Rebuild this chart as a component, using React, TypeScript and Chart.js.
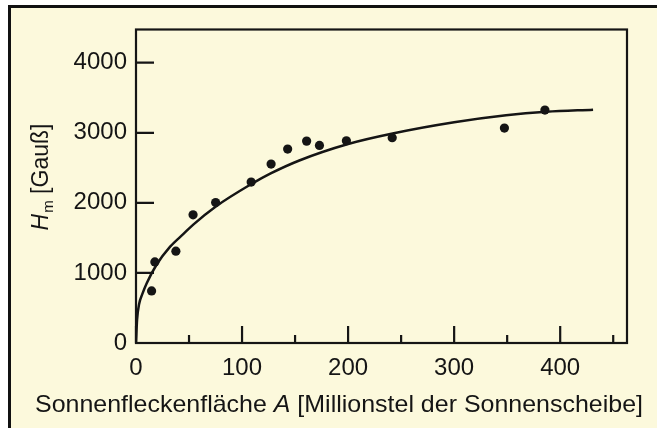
import React, { useEffect, useRef } from "react";
import { Chart, registerables } from "chart.js";

Chart.register(...registerables);

// Measured spot data: sunspot area A vs. maximum field strength H_m
const areaA = [14.7, 17.8, 37.6, 53.8, 75.1, 108.6, 127.4, 143, 160.9, 173, 198.4, 241.6, 347.4, 385.6];
const fieldH = [743, 1157, 1310, 1829, 2005, 2296, 2553, 2767, 2881, 2820, 2886, 2929, 3067, 3324];

// Fitted curve
const fitA = [0, 1, 3, 6, 10, 19.5, 32, 45, 54, 75, 108.6, 127, 154, 200, 242, 300, 349, 387, 431];
const fitH = [0, 330, 560, 700, 850, 1120, 1371, 1560, 1690, 1945, 2267, 2420, 2605, 2840, 2990, 3150, 3250, 3300, 3330];

const xTicks = [0, 100, 200, 300, 400];
const xMinorTicks = [50, 150, 250, 350, 450];
const yTicks = [0, 1000, 2000, 3000, 4000];

const xTitleParts = ["Sonnenfleckenfläche ", "A", " [Millionstel der Sonnenscheibe]"];
const yTitleSymbol = "H";
const yTitleSub = "m";
const yTitleUnit = " [Gauß]";

const FONT = "'Liberation Sans', Arial, Helvetica, sans-serif";
const INK = "#151515";

const framePlugin = {
  id: "frameAndTitles",
  afterDraw(chart: any) {
    const { ctx, chartArea: a, scales } = chart;
    const xs = scales.x;
    const ys = scales.y;
    ctx.save();
    ctx.strokeStyle = INK;
    ctx.lineWidth = 2.2;
    ctx.lineCap = "butt";
    ctx.strokeRect(a.left, a.top, a.right - a.left, a.bottom - a.top);
    ctx.beginPath();
    for (const v of xTicks) {
      const px = xs.getPixelForValue(v);
      ctx.moveTo(px, a.bottom);
      ctx.lineTo(px, a.bottom - 17);
    }
    for (const v of xMinorTicks) {
      const px = xs.getPixelForValue(v);
      ctx.moveTo(px, a.bottom);
      ctx.lineTo(px, a.bottom - 8);
    }
    for (const v of yTicks) {
      const py = ys.getPixelForValue(v);
      ctx.moveTo(a.left, py);
      ctx.lineTo(a.left + 18, py);
    }
    ctx.stroke();

    // x title
    ctx.fillStyle = INK;
    ctx.textBaseline = "alphabetic";
    ctx.textAlign = "left";
    const xFonts = [`24px ${FONT}`, `italic 24px ${FONT}`, `24px ${FONT}`];
    let total = 0;
    const widths: number[] = [];
    xTitleParts.forEach((p, i) => {
      ctx.font = xFonts[i];
      const w = ctx.measureText(p).width;
      widths.push(w);
      total += w;
    });
    const targetW = 608;
    ctx.save();
    ctx.translate(35, 411.5);
    ctx.scale(targetW / total, 1);
    let cx = 0;
    xTitleParts.forEach((p, i) => {
      ctx.font = xFonts[i];
      ctx.fillText(p, cx, 0);
      cx += widths[i];
    });
    ctx.restore();

    // y title
    ctx.save();
    ctx.translate(48, 177);
    ctx.rotate(-Math.PI / 2);
    ctx.font = `italic 23px ${FONT}`;
    const wH = ctx.measureText(yTitleSymbol).width;
    ctx.font = `15px ${FONT}`;
    const wSub = ctx.measureText(yTitleSub).width;
    ctx.font = `23px ${FONT}`;
    const wUnit = ctx.measureText(yTitleUnit).width;
    const tot = wH + wSub + 1 + wUnit;
    let sx = -tot / 2;
    ctx.font = `italic 23px ${FONT}`;
    ctx.fillText(yTitleSymbol, sx, 0);
    sx += wH + 1;
    ctx.font = `15px ${FONT}`;
    ctx.fillText(yTitleSub, sx, 5);
    sx += wSub;
    ctx.font = `23px ${FONT}`;
    ctx.fillText(yTitleUnit, sx, 0);
    ctx.restore();

    ctx.restore();
  },
};

export default function App() {
  const ref = useRef<HTMLCanvasElement | null>(null);

  useEffect(() => {
    if (!ref.current) return;
    const chart = new Chart(ref.current, {
      type: "scatter",
      data: {
        datasets: [
          {
            label: "Anpassung",
            data: fitA.map((x, i) => ({ x, y: fitH[i] })),
            showLine: true,
            pointRadius: 0,
            borderColor: INK,
            borderWidth: 2.5,
            cubicInterpolationMode: "monotone",
            fill: false,
          },
          {
            label: "Messungen",
            data: areaA.map((x, i) => ({ x, y: fieldH[i] })),
            pointRadius: 4.6,
            pointBackgroundColor: INK,
            pointBorderWidth: 0,
            backgroundColor: INK,
            borderColor: INK,
          },
        ],
      },
      options: {
        animation: false,
        responsive: false,
        devicePixelRatio: 1,
        layout: { padding: { left: 0, top: 29.5, right: 30, bottom: 0 } },
        plugins: {
          legend: { display: false },
          tooltip: { enabled: false },
          title: { display: false },
        },
        scales: {
          x: {
            type: "linear",
            min: 0,
            max: 463,
            grid: { display: false, drawTicks: false },
            border: { display: false },
            afterBuildTicks: (s: any) => {
              s.ticks = xTicks.map((v) => ({ value: v }));
            },
            afterFit: (s: any) => {
              s.height = 85;
            },
            ticks: {
              color: INK,
              font: { family: FONT, size: 24 },
              padding: 11,
              maxRotation: 0,
              autoSkip: false,
              callback: (v: any) => String(v),
            },
          },
          y: {
            type: "linear",
            min: 0,
            max: 4474,
            grid: { display: false, drawTicks: false },
            border: { display: false },
            afterBuildTicks: (s: any) => {
              s.ticks = yTicks.map((v) => ({ value: v }));
            },
            afterFit: (s: any) => {
              s.width = 136;
            },
            ticks: {
              color: INK,
              font: { family: FONT, size: 24 },
              padding: 9,
              autoSkip: false,
              callback: (v: any) => String(v),
            },
          },
        },
      },
      plugins: [framePlugin],
    } as any);
    return () => chart.destroy();
  }, []);

  return (
    <div>
      <div
        style={{
          position: "fixed",
          left: 8,
          top: 5,
          right: 0,
          bottom: 0,
          boxSizing: "border-box",
          borderTop: "3px solid #111",
          borderLeft: "3px solid #111",
          background: "#fcf9dc",
        }}
      />
      <canvas
        ref={ref}
        width={657}
        height={428}
        style={{ position: "fixed", left: 0, top: 0, width: 657, height: 428 }}
      />
    </div>
  );
}
